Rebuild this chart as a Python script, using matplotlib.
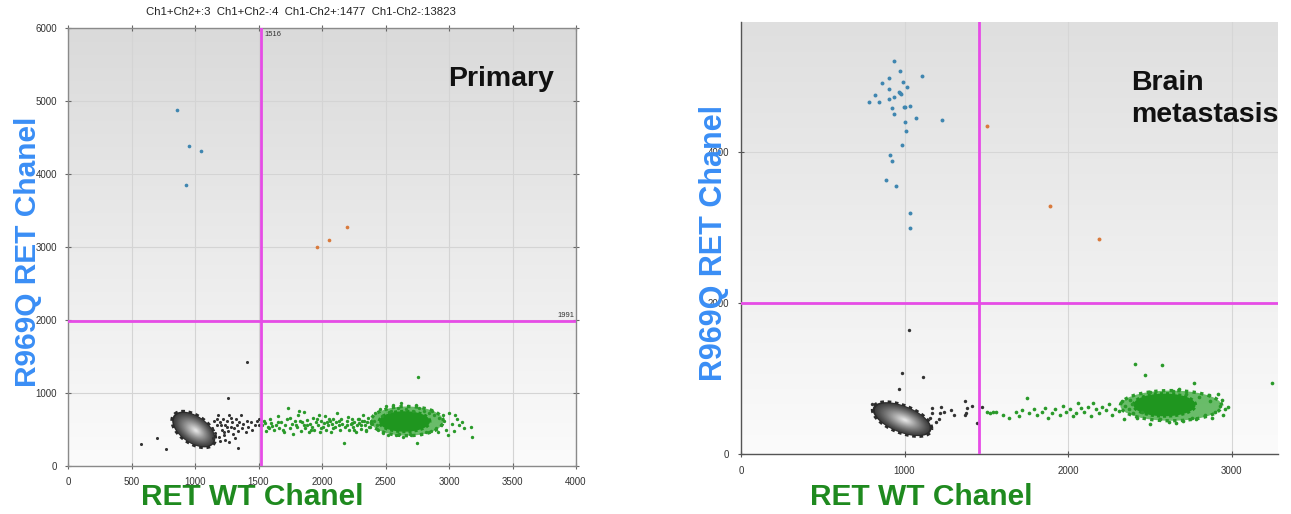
import numpy as np
import matplotlib
matplotlib.use("Agg")
import matplotlib.pyplot as plt
from matplotlib.colors import to_rgb

# ---------------- data: Primary ----------------
p_title = "Ch1+Ch2+:3  Ch1+Ch2-:4  Ch1-Ch2+:1477  Ch1-Ch2-:13823"
p_label = "Primary"
p_thr_x = 1516
p_thr_y = 1991
p_xticks = [0, 500, 1000, 1500, 2000, 2500, 3000, 3500, 4000]
p_yticks = [0, 1000, 2000, 3000, 4000, 5000, 6000]
p_blue_x = [858, 953, 1045, 927]
p_blue_y = [4877, 4384, 4315, 3849]
p_orange_x = [1958, 2058, 2200]
p_orange_y = [2996, 3092, 3270]
p_black_x = [1412, 1257, 575, 703, 772, 1341,
             1130, 1150, 1160, 1170, 1180, 1190, 1200, 1210, 1220, 1230, 1240, 1250,
             1260, 1270, 1280, 1290, 1300, 1310, 1320, 1330, 1340, 1350, 1360, 1370,
             1380, 1400, 1410, 1420, 1440, 1450, 1470, 1490, 1500, 1505, 1145, 1195,
             1235, 1265, 1315, 1175, 1205, 1225, 1255, 1285]
p_black_y = [1429, 927, 306, 383, 237, 251,
             520, 620, 450, 560, 700, 400, 600, 500, 650, 430, 560, 620,
             480, 700, 540, 600, 440, 520, 640, 560, 480, 600, 700, 520,
             580, 460, 620, 540, 600, 500, 560, 620, 560, 640, 380, 340,
             360, 330, 380, 640, 560, 470, 540, 660]
p_green_x = [1530, 1545, 1560, 1575, 1590, 1600, 1620, 1635, 1650, 1665, 1680, 1700,
             1710, 1725, 1730, 1745, 1760, 1770, 1785, 1800, 1810, 1820, 1835, 1840,
             1855, 1860, 1870, 1885, 1895, 1905, 1920, 1930, 1940, 1950, 1965, 1975,
             1985, 1995, 2005, 2015, 2025, 2035, 2045, 2060, 2070, 2080, 2090, 2100,
             2110, 2120, 2130, 2140, 2150, 2160, 2176, 2185, 2195, 2205, 2215, 2225,
             2235, 2245, 2255, 2265, 2275, 2285, 2295, 2305, 2315, 2325, 2335, 2345,
             2355, 2365, 2375, 2385, 2395,
             1555, 1610, 1690, 1750, 1830, 1880, 1910, 1960, 2040, 2085, 2135, 2200,
             2250, 2290, 2330, 2370, 1580, 1655, 1795, 1990, 2055, 2240, 2310, 2350,
             2420, 2440, 2460, 2480, 2500, 2520, 2540, 2560, 2580, 2600, 2620, 2640,
             2660, 2680, 2700, 2720, 2750, 2753, 2760, 2780, 2800, 2820, 2840, 2860,
             2880, 2900, 2920, 2940, 2960, 2980, 3000, 3020, 3040, 3060, 3080, 3100,
             3120, 3183, 3176, 2990, 3050, 2410, 2430, 2470, 2530, 2610, 2690, 2740,
             2870, 2910, 2950]
p_green_y = [560, 610, 480, 530, 640, 590, 500, 560, 680, 520, 600, 470,
             560, 640, 790, 520, 580, 440, 610, 540, 700, 750, 480, 600,
             560, 740, 520, 630, 470, 580, 540, 660, 500, 600, 560, 700,
             460, 620, 540, 590, 680, 500, 560, 620, 470, 580, 650, 530,
             600, 720, 560, 490, 640, 580, 310, 540, 610, 670, 500, 580,
             640, 530, 600, 460, 560, 650, 590, 510, 620, 700, 560, 480,
             600, 660, 540, 620, 580,
             590, 550, 500, 660, 620, 560, 500, 640, 600, 520, 620, 560,
             500, 640, 610, 540, 520, 600, 560, 520, 640, 590, 560, 500,
             720, 500, 780, 450, 820, 430, 760, 840, 420, 800, 860, 400,
             780, 820, 420, 760, 319, 1215, 800, 440, 760, 460, 720, 480,
             700, 520, 660, 560, 620, 500, 720, 580, 480, 640, 560, 600,
             520, 393, 530, 420, 700, 620, 560, 680, 740, 440, 440, 830,
             760, 460, 700]
# clusters: centre x, centre y, half-extent x, half-extent y, correlation
p_neg_cluster = [990, 500, 170, 245, -0.50]
p_pos_cluster = [2670, 615, 285, 200, 0.0]
p_pos_core = [2650, 610, 200, 140, 0.0]

# ---------------- data: Brain metastasis ----------------
b_label = "Brain\nmetastasis"
b_thr_x = 1456
b_thr_y = 2000
b_xticks = [0, 1000, 2000, 3000]
b_yticks = [0, 2000, 4000]
b_blue_x = [938, 972, 1105, 903, 864, 989, 1013, 903, 972, 965, 980, 822, 938, 781,
            844, 903, 1001, 995, 1035, 922, 938, 1068, 1228, 1003, 1009, 987, 909,
            924, 885, 946, 1036, 1032]
b_blue_y = [5201, 5077, 5011, 4985, 4914, 4927, 4865, 4830, 4786, 4800, 4770, 4751,
            4733, 4662, 4662, 4698, 4600, 4590, 4609, 4583, 4507, 4446, 4424, 4401,
            4282, 4088, 3960, 3885, 3625, 3554, 3196, 2993]
b_orange_x = [1505, 1890, 2190]
b_orange_y = [4348, 3285, 2848]
b_black_x = [1029, 987, 1115, 966, 803, 1166, 1223, 1217, 1170, 1156, 1211, 1282,
             1303, 1370, 1385, 1370, 1376, 1415, 1446, 1472, 1190, 1240]
b_black_y = [1642, 1077, 1024, 857, 662, 605, 618, 539, 539, 473, 464, 583,
             517, 706, 605, 517, 539, 636, 406, 618, 420, 560]
b_green_x = [1505, 1520, 1540, 1560, 1600, 1640, 1680, 1700, 1747, 1720, 1760, 1790,
             1810, 1840, 1860, 1880, 1900, 1920, 1950, 1970, 1990, 2010, 2030, 2050,
             2060, 2080, 2100, 2120, 2140, 2150, 2170, 2190, 2210, 2230, 2250, 2270,
             2290, 2310, 2330, 2350, 2370, 2390, 2400,
             2408, 2577, 2471, 2771, 3248, 2340, 2380, 2450, 2500, 2560, 2640, 2700,
             2720, 2760, 2800, 2840, 2870, 2900, 2930, 2950, 2960, 2920, 2880, 2660,
             2620, 2500, 2860, 2420, 2980, 2940, 2780, 2680]
b_green_y = [560, 540, 560, 550, 520, 480, 560, 500, 737, 580, 540, 600,
             520, 560, 610, 480, 540, 590, 520, 640, 560, 600, 500, 540,
             680, 610, 560, 620, 500, 680, 590, 540, 620, 580, 660, 510,
             600, 570, 700, 640, 600, 660, 540,
             1196, 1183, 1042, 944, 936, 470, 720, 560, 820, 460, 840, 440,
             800, 480, 760, 520, 700, 560, 640, 520, 600, 800, 480, 410,
             420, 400, 780, 480, 620, 720, 460, 860]
b_neg_cluster = [985, 462, 180, 225, -0.55]
b_pos_cluster = [2630, 640, 310, 200, 0.0]
b_pos_core = [2590, 650, 190, 150, 0.0]

# ---------------- style ----------------
BLUE_LBL = "#3a8ef5"
GREEN_LBL = "#1f8a1f"
MAGENTA = "#e64ce6"
DOT_GREEN = "#2a9a2a"
DOT_BLUE = "#3f86b0"
DOT_ORANGE = "#d97a3c"
DOT_BLACK = "#333333"

plt.rcParams['font.family'] = ['Liberation Sans', 'DejaVu Sans']

W, H = 1291, 514
fig = plt.figure(figsize=(W / 100, H / 100), dpi=100)
fig.patch.set_facecolor("white")


def ellipse_xy(c, scale=1.0, shift=(0.0, 0.0), n=120):
    cx, cy, ex, ey, rho = c
    t = np.linspace(0, 2 * np.pi, n)
    x = cx + shift[0] + scale * ex * np.cos(t)
    y = cy + shift[1] + scale * ey * (rho * np.cos(t) + np.sqrt(1 - rho ** 2) * np.sin(t))
    return x, y


def draw_neg_cluster(ax, c):
    x, y = ellipse_xy(c)
    ax.fill(x, y, color="#2b2b2b", zorder=3, lw=0)
    ax.plot(x, y, ls=(0, (1, 1.0)), color="#2a2a2a", lw=2.6, zorder=3)
    dark = np.array(to_rgb("#404040"))
    light = np.array(to_rgb("#e2e2e2"))
    scales = np.linspace(0.93, 0.06, 30)
    for i, s in enumerate(scales):
        f = i / (len(scales) - 1)
        col = dark + (light - dark) * (f ** 1.1)
        sh = (0.3 * c[2] * (1 - s) * 0.35, -0.15 * c[3] * (1 - s) * 0.35)
        xx, yy = ellipse_xy(c, s, sh)
        ax.fill(xx, yy, color=col, zorder=3, lw=0)


def draw_pos_cluster(ax, c, core):
    x, y = ellipse_xy(c)
    ax.fill(x, y, color="#3aa83a", alpha=0.75, zorder=3, lw=0)
    ax.plot(x, y, ls=(0, (1, 1.3)), color=DOT_GREEN, lw=2.4, zorder=3)
    xx, yy = ellipse_xy(core)
    ax.fill(xx, yy, color="#1f961f", zorder=3, lw=0)
    ax.plot(xx, yy, ls=(0, (1, 1.0)), color="#1f961f", lw=2.2, zorder=3)


def background(ax, top, bottom):
    grad = np.linspace(top, bottom, 256).reshape(-1, 1)
    img = np.repeat(grad[:, :, None], 3, axis=2)
    ax.imshow(img, extent=(0, 1, 0, 1), transform=ax.transAxes, aspect="auto",
              zorder=0, interpolation="bilinear")


# ---------------- left panel ----------------
ax1 = fig.add_axes([68 / W, (H - 466) / H, (576 - 68) / W, (466 - 28) / H])
background(ax1, 0.855, 0.985)
ax1.set_xlim(0, 4000)
ax1.set_ylim(0, 6000)
ax1.set_xticks(p_xticks)
ax1.set_yticks(p_yticks)
ax1.grid(True, color="#d4d4d4", lw=0.8, zorder=1)
ax1.set_axisbelow(True)
for s in ax1.spines.values():
    s.set_color("#8a8a8a")
    s.set_linewidth(1.0)
ax1.tick_params(direction="inout", length=4, width=0.8, colors="#666666",
                labelsize=7, labelcolor="#333333", top=True, right=True, pad=6)

draw_neg_cluster(ax1, p_neg_cluster)
draw_pos_cluster(ax1, p_pos_cluster, p_pos_core)
ax1.scatter(p_black_x, p_black_y, s=5, color=DOT_BLACK, zorder=4, lw=0)
ax1.scatter(p_green_x, p_green_y, s=6, color=DOT_GREEN, zorder=4, lw=0)
ax1.scatter(p_blue_x, p_blue_y, s=7, color=DOT_BLUE, zorder=4, lw=0)
ax1.scatter(p_orange_x, p_orange_y, s=7, color=DOT_ORANGE, zorder=4, lw=0)
ax1.axvline(p_thr_x, color=MAGENTA, lw=2, zorder=5)
ax1.axhline(p_thr_y, color=MAGENTA, lw=2, zorder=5)
ax1.text(p_thr_x + 30, 5960, str(p_thr_x), fontsize=5.5, va="top", ha="left",
         color="#333333", zorder=6)
ax1.text(3985, p_thr_y + 20, str(p_thr_y), fontsize=5.5, va="bottom", ha="right",
         color="#333333", zorder=6)
ax1.text(0.957, 0.883, p_label, transform=ax1.transAxes, fontsize=20.5,
         fontweight="bold", ha="right", va="center", color="#111111", zorder=6)
fig.text(301 / W, 1 - 12 / H, p_title, fontsize=8.2, ha="center", va="center",
         color="#222222")
fig.text(28 / W, 1 - 252 / H, "R969Q RET Chanel", rotation=90, fontsize=21.5,
         fontweight="bold", color=BLUE_LBL, ha="center", va="center")
fig.text(252 / W, 1 - 497 / H, "RET WT Chanel", fontsize=21.5, fontweight="bold",
         color=GREEN_LBL, ha="center", va="center")

# ---------------- right panel ----------------
ax2 = fig.add_axes([741 / W, (H - 454) / H, (1278 - 741) / W, (454 - 22) / H])
background(ax2, 0.875, 0.985)
ax2.set_xlim(0, 3284)
ax2.set_ylim(0, 5722)
ax2.set_xticks(b_xticks)
ax2.set_yticks(b_yticks)
ax2.grid(True, color="#d6d6d6", lw=0.8, zorder=1)
ax2.set_axisbelow(True)
ax2.spines["top"].set_visible(False)
ax2.spines["right"].set_visible(False)
for k in ("left", "bottom"):
    ax2.spines[k].set_color("#555555")
    ax2.spines[k].set_linewidth(1.0)
ax2.tick_params(direction="inout", length=5, width=0.8, colors="#555555",
                labelsize=7, labelcolor="#333333", pad=6)

draw_neg_cluster(ax2, b_neg_cluster)
draw_pos_cluster(ax2, b_pos_cluster, b_pos_core)
ax2.scatter(b_black_x, b_black_y, s=6, color=DOT_BLACK, zorder=4, lw=0)
ax2.scatter(b_green_x, b_green_y, s=7, color=DOT_GREEN, zorder=4, lw=0)
ax2.scatter(b_blue_x, b_blue_y, s=8, color=DOT_BLUE, zorder=4, lw=0)
ax2.scatter(b_orange_x, b_orange_y, s=8, color=DOT_ORANGE, zorder=4, lw=0)
ax2.axvline(b_thr_x, color=MAGENTA, lw=2, zorder=5)
ax2.axhline(b_thr_y, color=MAGENTA, lw=2, zorder=5)
ax2.text(1131 / W, 1 - 99 / H, b_label, transform=fig.transFigure, fontsize=20.5,
         fontweight="bold", ha="left", va="center", color="#111111", zorder=6,
         linespacing=1.3)
fig.text(714 / W, 1 - 243 / H, "R969Q RET Chanel", rotation=90, fontsize=22,
         fontweight="bold", color=BLUE_LBL, ha="center", va="center")
fig.text(921 / W, 1 - 497 / H, "RET WT Chanel", fontsize=21.5, fontweight="bold",
         color=GREEN_LBL, ha="center", va="center")

fig.savefig("out.png", dpi=100)
